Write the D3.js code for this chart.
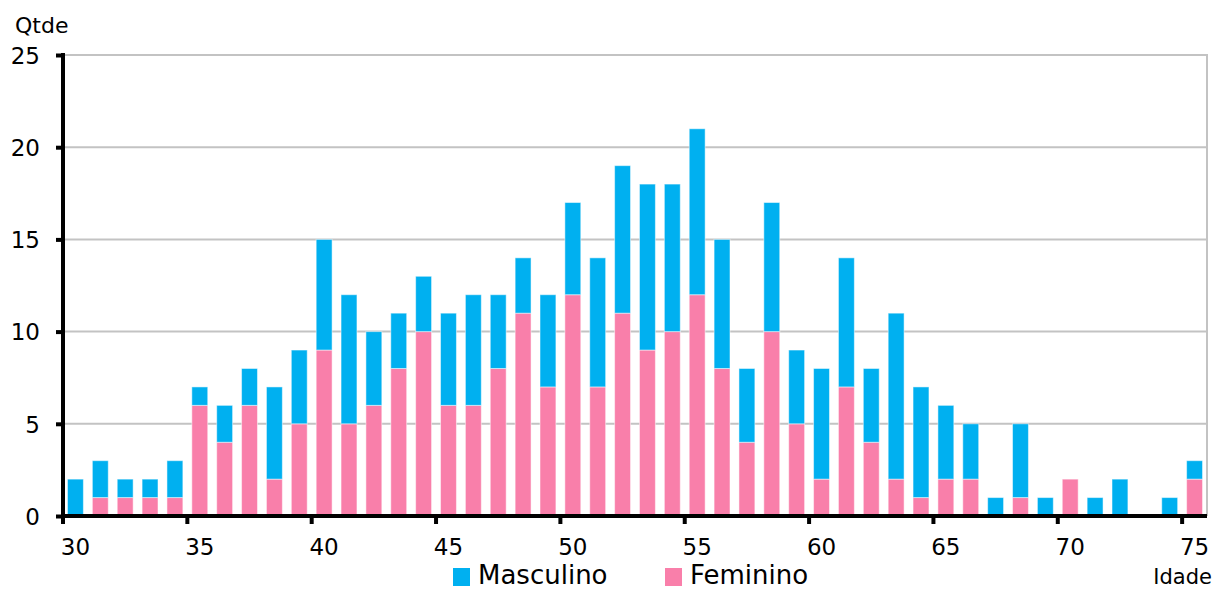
<!DOCTYPE html>
<html lang="pt">
<head>
<meta charset="UTF-8">
<title>Qtde por Idade</title>
<script src="https://d3js.org/d3.v7.min.js"></script>
<style>
  body { margin: 0; background: #fff; }
  svg text { font-family: "DejaVu Sans", sans-serif; fill: #000; }
</style>
</head>
<body>
<svg id="chart" width="1215" height="591"></svg>
<script>
// idades 30..75
const idades = d3.range(30, 76);
const feminino = [0,1,1,1,1,6,4,6,2,5, 9,5,6,8,10,6,6,8,11,7, 12,7,11,9,10,12,8,4,10,5, 2,7,4,2,1,2,2,0,1,0, 2,0,0,0,0,2];
const masculino = [2,2,1,1,2,1,2,2,5,4, 6,7,4,3,3,5,6,4,3,5, 5,7,8,9,8,9,7,4,7,4, 6,7,4,9,6,4,3,1,4,1, 0,1,2,0,1,1];
const yTicks = [0, 5, 10, 15, 20, 25];
const xLabels = [30, 35, 40, 45, 50, 55, 60, 65, 70, 75];

const corM = "#00b0f0", corF = "#f97faa";

const svg = d3.select("#chart");
const mLeft = 63, mRight = 1207, mTop = 55, mBottom = 516;

const x = d3.scaleBand().domain(idades).range([mLeft, mRight]).paddingInner(0.36).paddingOuter(0.18);
const y = d3.scaleLinear().domain([0, 25]).range([mBottom, mTop]);

// grid
svg.append("g").selectAll("line").data(yTicks.filter(d => d > 0)).join("line")
  .attr("x1", mLeft).attr("x2", mRight)
  .attr("y1", d => y(d)).attr("y2", d => y(d))
  .attr("stroke", "#c3c3c3").attr("stroke-width", 2);
svg.append("line").attr("x1", mRight).attr("x2", mRight).attr("y1", y(25) - 1).attr("y2", mBottom)
  .attr("stroke", "#c3c3c3").attr("stroke-width", 2);

const dados = idades.map((a, i) => ({ idade: a, f: feminino[i], m: masculino[i] }));

// barras
const g = svg.append("g");
g.selectAll(".fem").data(dados.filter(d => d.f > 0)).join("rect")
  .attr("x", d => x(d.idade)).attr("width", x.bandwidth())
  .attr("y", d => y(d.f)).attr("height", d => y(0) - y(d.f))
  .attr("fill", corF).attr("stroke", "#fff").attr("stroke-opacity", 0.5).attr("stroke-width", 1);
g.selectAll(".masc").data(dados.filter(d => d.m > 0)).join("rect")
  .attr("x", d => x(d.idade)).attr("width", x.bandwidth())
  .attr("y", d => y(d.f + d.m)).attr("height", d => y(d.f) - y(d.f + d.m))
  .attr("fill", corM).attr("stroke", "#fff").attr("stroke-opacity", 0.5).attr("stroke-width", 1);

// eixo y
const yAxis = svg.append("g").attr("transform", `translate(${mLeft},0)`)
  .call(d3.axisLeft(y).tickValues(yTicks).tickSize(7).tickPadding(16));
yAxis.select(".domain").remove();
yAxis.selectAll(".tick line").attr("stroke", "#000").attr("stroke-width", 4);
yAxis.selectAll(".tick text").attr("font-size", 23).attr("dy", "0.36em");
svg.append("line").attr("x1", mLeft).attr("x2", mLeft).attr("y1", mTop - 2).attr("y2", mBottom + 2)
  .attr("stroke", "#000").attr("stroke-width", 4);

// eixo x
const step = x.step();
const xAxis = svg.append("g").attr("transform", `translate(0,${mBottom})`)
  .call(d3.axisBottom(x).tickValues(xLabels).tickSize(0).tickPadding(23));
xAxis.select(".domain").remove();
xAxis.selectAll(".tick text").attr("font-size", 23);
xAxis.selectAll(".tick").append("line")
  .attr("x1", -step / 2).attr("x2", -step / 2).attr("y1", 0).attr("y2", 8)
  .attr("stroke", "#000").attr("stroke-width", 4);
svg.append("line").attr("x1", mLeft - 2).attr("x2", mRight).attr("y1", mBottom).attr("y2", mBottom)
  .attr("stroke", "#000").attr("stroke-width", 4);

// titulos
svg.append("text").attr("x", 15).attr("y", 33).attr("font-size", 22).text("Qtde");
svg.append("text").attr("x", 1212).attr("y", 584).attr("text-anchor", "end").attr("font-size", 21).text("Idade");

// legenda
const legenda = [{ nome: "Masculino", cor: corM, x: 453 }, { nome: "Feminino", cor: corF, x: 665 }];
const lg = svg.append("g").selectAll("g").data(legenda).join("g")
  .attr("transform", d => `translate(${d.x},0)`);
lg.append("rect").attr("x", 0).attr("y", 568).attr("width", 17).attr("height", 18).attr("fill", d => d.cor);
lg.append("text").attr("x", 25).attr("y", 584).attr("font-size", 26).text(d => d.nome);
</script>
</body>
</html>
